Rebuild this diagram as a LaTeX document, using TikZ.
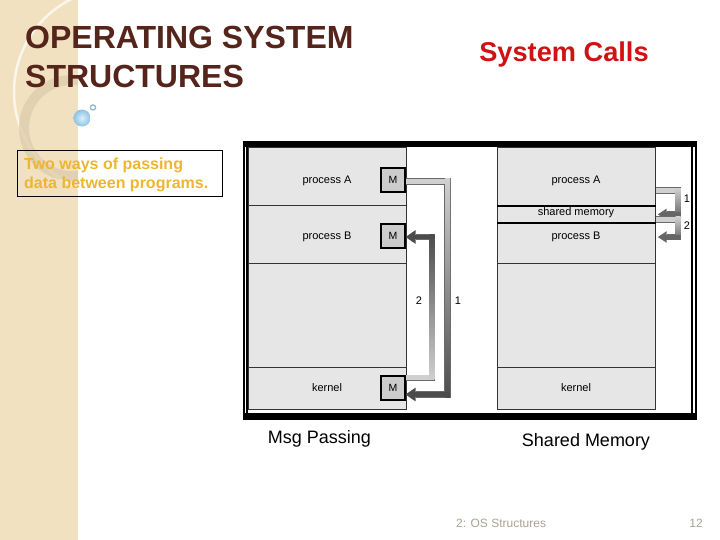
\documentclass[tikz,border=0pt]{standalone}
\usepackage{fontspec}
\setmainfont{Liberation Sans}
\usetikzlibrary{arrows.meta,calc,shadings}
\definecolor{strip}{HTML}{F1E1C1}
\definecolor{stripring}{HTML}{DFCEAC}
\definecolor{titlebrown}{HTML}{55241A}
\definecolor{callred}{HTML}{D01212}
\definecolor{secgray}{HTML}{E6E6E6}
\definecolor{mgray}{HTML}{CCCCCC}
\definecolor{noteyellow}{HTML}{EDB531}
\definecolor{footgray}{HTML}{A8A290}
\definecolor{arlight}{HTML}{D0D0D0}
\definecolor{ardark}{HTML}{4C4C4C}
\definecolor{arline}{HTML}{6A6A6A}
\definecolor{ballout}{HTML}{8CC3E4}
\definecolor{ballin}{HTML}{DDF0FA}
\definecolor{ringblue}{HTML}{8CB4C8}
\begin{document}
\begin{tikzpicture}[x=1pt,y=-1pt,
  sec/.style={draw=black!80, line width=0.7pt, fill=secgray, minimum width=158pt, inner sep=0pt, anchor=north west},
  lbl/.style={font=\fontsize{11}{12}\selectfont, inner sep=0pt},
  mbox/.style={draw=black, line width=1.6pt, fill=mgray, minimum width=24pt, minimum height=24pt, inner sep=0pt, font=\fontsize{10.5}{12}\selectfont},
  num/.style={font=\fontsize{11}{12}\selectfont, inner sep=0pt},
  captext/.style={font=\fontsize{18}{20}\selectfont, anchor=base, inner sep=0pt},
  bigtip/.style={-{Triangle[length=10pt,width=13pt]}},
  smalltip/.style={-{Triangle[length=9pt,width=11pt]}}
]
\useasboundingbox (0,0) rectangle (720,540);
% left strip and decoration
\fill[strip] (0,0) rectangle (78,540);
\begin{scope}
  \clip (0,0) rectangle (78,540);
  \draw[white, line width=2.5pt, opacity=0.7] (118,92) circle (104);
  \draw[stripring, line width=10pt, opacity=0.8] (72,128) circle (48);
\end{scope}
\shade[inner color=ballin, outer color=ballout] (82,118) circle (8.5);
\draw[ringblue, line width=1.2pt, fill=white] (93,107.5) circle (2.6);
% titles
\node[anchor=base west, inner sep=0pt, titlebrown, font=\bfseries\fontsize{32}{37}\selectfont] (title1) at (25,49) {OPERATING SYSTEM};
\node[anchor=base west, inner sep=0pt, titlebrown, font=\bfseries\fontsize{32}{37}\selectfont] (title2) at (25,88) {STRUCTURES};
\node[anchor=base, inner sep=0pt, callred, font=\bfseries\fontsize{27.2}{30}\selectfont] (calls) at (564,61.5) {System Calls};
% note box
\node[draw=black, line width=0.7pt, minimum width=205pt, minimum height=46pt, anchor=north west, inner sep=0pt] (notebox) at (17,150) {};
\node[anchor=north west, inner sep=0pt, align=left, noteyellow, font=\bfseries\fontsize{16}{19}\selectfont] (note) at (24,158) {Two ways of passing\\data between programs.};
% frame
\fill[black] (243,141) rectangle (697,147);
\fill[black] (243,413) rectangle (697,420);
\draw[black, line width=1.4pt] (244,141) -- (244,420);
\draw[black, line width=1.4pt] (247,141) -- (247,420);
\draw[black, line width=1.4pt] (692,141) -- (692,420);
\draw[black, line width=1.4pt] (696,141) -- (696,420);
% left column
\node[sec, minimum height=58pt] (lA) at (248,147) {};
\node[sec, minimum height=58pt] (lB) at (248,205) {};
\node[sec, minimum height=104pt] (lE) at (248,263) {};
\node[sec, minimum height=42pt] (lK) at (248,367) {};
% right column
\node[sec, minimum height=59pt] (rA) at (497,147) {};
\node[sec, minimum height=16pt] (rS) at (497,206) {};
\node[sec, minimum height=41pt] (rB) at (497,222) {};
\node[sec, minimum height=104pt] (rE) at (497,263) {};
\node[sec, minimum height=42pt] (rK) at (497,367) {};
\draw[black, line width=2pt] (rS.north west) -- (rS.north east);
\draw[black, line width=2pt] (rS.south west) -- (rS.south east);
% M boxes (positions)
\path (393,180) coordinate (mAc) (393,236) coordinate (mBc) (393,388) coordinate (mKc);
\coordinate (mAe) at (405.5,180);
\coordinate (mBe) at (405.5,236);
\coordinate (mKe) at (405.5,388);
% arrow 1 (left): process A -> kernel
\coordinate (a1s) at ($(mAe)+(0,1.5)$);
\coordinate (a1c) at ($(a1s)+(42,0)$);
\coordinate (a1e) at ($(mKe)+(0,6.5)$);
\draw[arline, line width=6.6pt] (a1s) -- ($(a1c)+(3.3,0)$);
\draw[arline, line width=6.6pt] ($(a1c)+(0,-3.3)$) -- ($(a1c|-a1e)+(0,3.3)$);
\draw[arline, line width=6.6pt] ($(a1c|-a1e)+(3.3,0)$) -- ($(a1e)+(10,0)$);
\draw[arlight, line width=5pt] (a1s) -- ($(a1c)+(2.5,0)$);
\shade[top color=arlight, bottom color=ardark] ($(a1c)+(-2.5,-2.5)$) rectangle ($(a1c|-a1e)+(2.5,2.5)$);
\draw[ardark, line width=5pt, bigtip] ($(a1c|-a1e)+(2.5,0)$) -- (a1e);
% arrow 2 (left): kernel -> process B
\coordinate (a2s) at ($(mKe)+(0,-10.5)$);
\coordinate (a2c) at ($(a2s)+(26.5,0)$);
\coordinate (a2e) at ($(mBe)+(0,1)$);
\draw[arline, line width=6pt] (a2s) -- ($(a2c)+(3,0)$);
\draw[arline, line width=6pt] ($(a2c)+(0,3)$) -- ($(a2c|-a2e)+(0,-3)$);
\draw[arline, line width=6pt] ($(a2c|-a2e)+(3,0)$) -- ($(a2e)+(10,0)$);
\draw[arlight, line width=4.6pt] (a2s) -- ($(a2c)+(2.3,0)$);
\shade[top color=ardark, bottom color=arlight] ($(a2c|-a2e)+(-2.3,-2.3)$) rectangle ($(a2c)+(2.3,2.3)$);
\draw[ardark, line width=4.6pt, bigtip] ($(a2c|-a2e)+(2.3,0)$) -- (a2e);
% M boxes
\node[mbox] (mA) at (mAc) {M};
\node[mbox] (mB) at (mBc) {M};
\node[mbox] (mK) at (mKc) {M};
% right arrows
\coordinate (b1s) at ($(rA.south east)+(0,-16)$);
\coordinate (b1c) at ($(b1s)+(22.5,0)$);
\coordinate (b1e) at ($(rS.east)+(2,0)$);
\draw[arline, line width=6.4pt] (b1s) -- ($(b1c)+(3.2,0)$);
\draw[arline, line width=6.4pt] ($(b1c)+(0,-3.2)$) -- ($(b1c|-b1e)+(0,3.2)$);
\draw[arline, line width=6.4pt] ($(b1c|-b1e)+(3.2,0)$) -- ($(b1e)+(9,0)$);
\draw[arlight, line width=5pt] (b1s) -- ($(b1c)+(2.5,0)$);
\shade[top color=arlight, bottom color=black!60] ($(b1c)+(-2.5,-2.5)$) rectangle ($(b1c|-b1e)+(2.5,2.5)$);
\draw[black!60, line width=5pt, smalltip] ($(b1c|-b1e)+(2.5,0)$) -- (b1e);
\coordinate (b2s) at ($(rS.east)+(0,5)$);
\coordinate (b2c) at ($(b2s)+(22.5,0)$);
\coordinate (b2e) at ($(rB.north east)+(2,15)$);
\draw[arline, line width=6.4pt] (b2s) -- ($(b2c)+(3.2,0)$);
\draw[arline, line width=6.4pt] ($(b2c)+(0,-3.2)$) -- ($(b2c|-b2e)+(0,3.2)$);
\draw[arline, line width=6.4pt] ($(b2c|-b2e)+(3.2,0)$) -- ($(b2e)+(9,0)$);
\draw[arlight, line width=5pt] (b2s) -- ($(b2c)+(2.5,0)$);
\shade[top color=arlight, bottom color=black!60] ($(b2c)+(-2.5,-2.5)$) rectangle ($(b2c|-b2e)+(2.5,2.5)$);
\draw[black!60, line width=5pt, smalltip] ($(b2c|-b2e)+(2.5,0)$) -- (b2e);
% labels
\node[lbl] (tA) at (327,181) {process A};
\node[lbl] (tB) at (327,237) {process B};
\node[lbl] (tK) at (327,388) {kernel};
\node[lbl] (uA) at (576,181) {process A};
\node[lbl] (uS) at (576,213) {shared memory};
\node[lbl] (uB) at (576,237) {process B};
\node[lbl] (uK) at (576,388) {kernel};
\node[num] (n2) at (419,301) {2};
\node[num] (n1) at (458,301) {1};
\node[num] (r1) at (687,199) {1};
\node[num] (r2) at (687,226) {2};
\node[captext] (msg) at (319.5,443.5) {Msg Passing};
\node[captext] (shm) at (586,446) {Shared Memory};
% footer
\node[anchor=base west, inner sep=0pt, footgray, font=\fontsize{12}{14}\selectfont] (foot) at (456,527.5) {2: OS Structures};
\node[anchor=base east, inner sep=0pt, footgray, font=\fontsize{12}{14}\selectfont] (page) at (703,527.5) {12};
\end{tikzpicture}
\end{document}
